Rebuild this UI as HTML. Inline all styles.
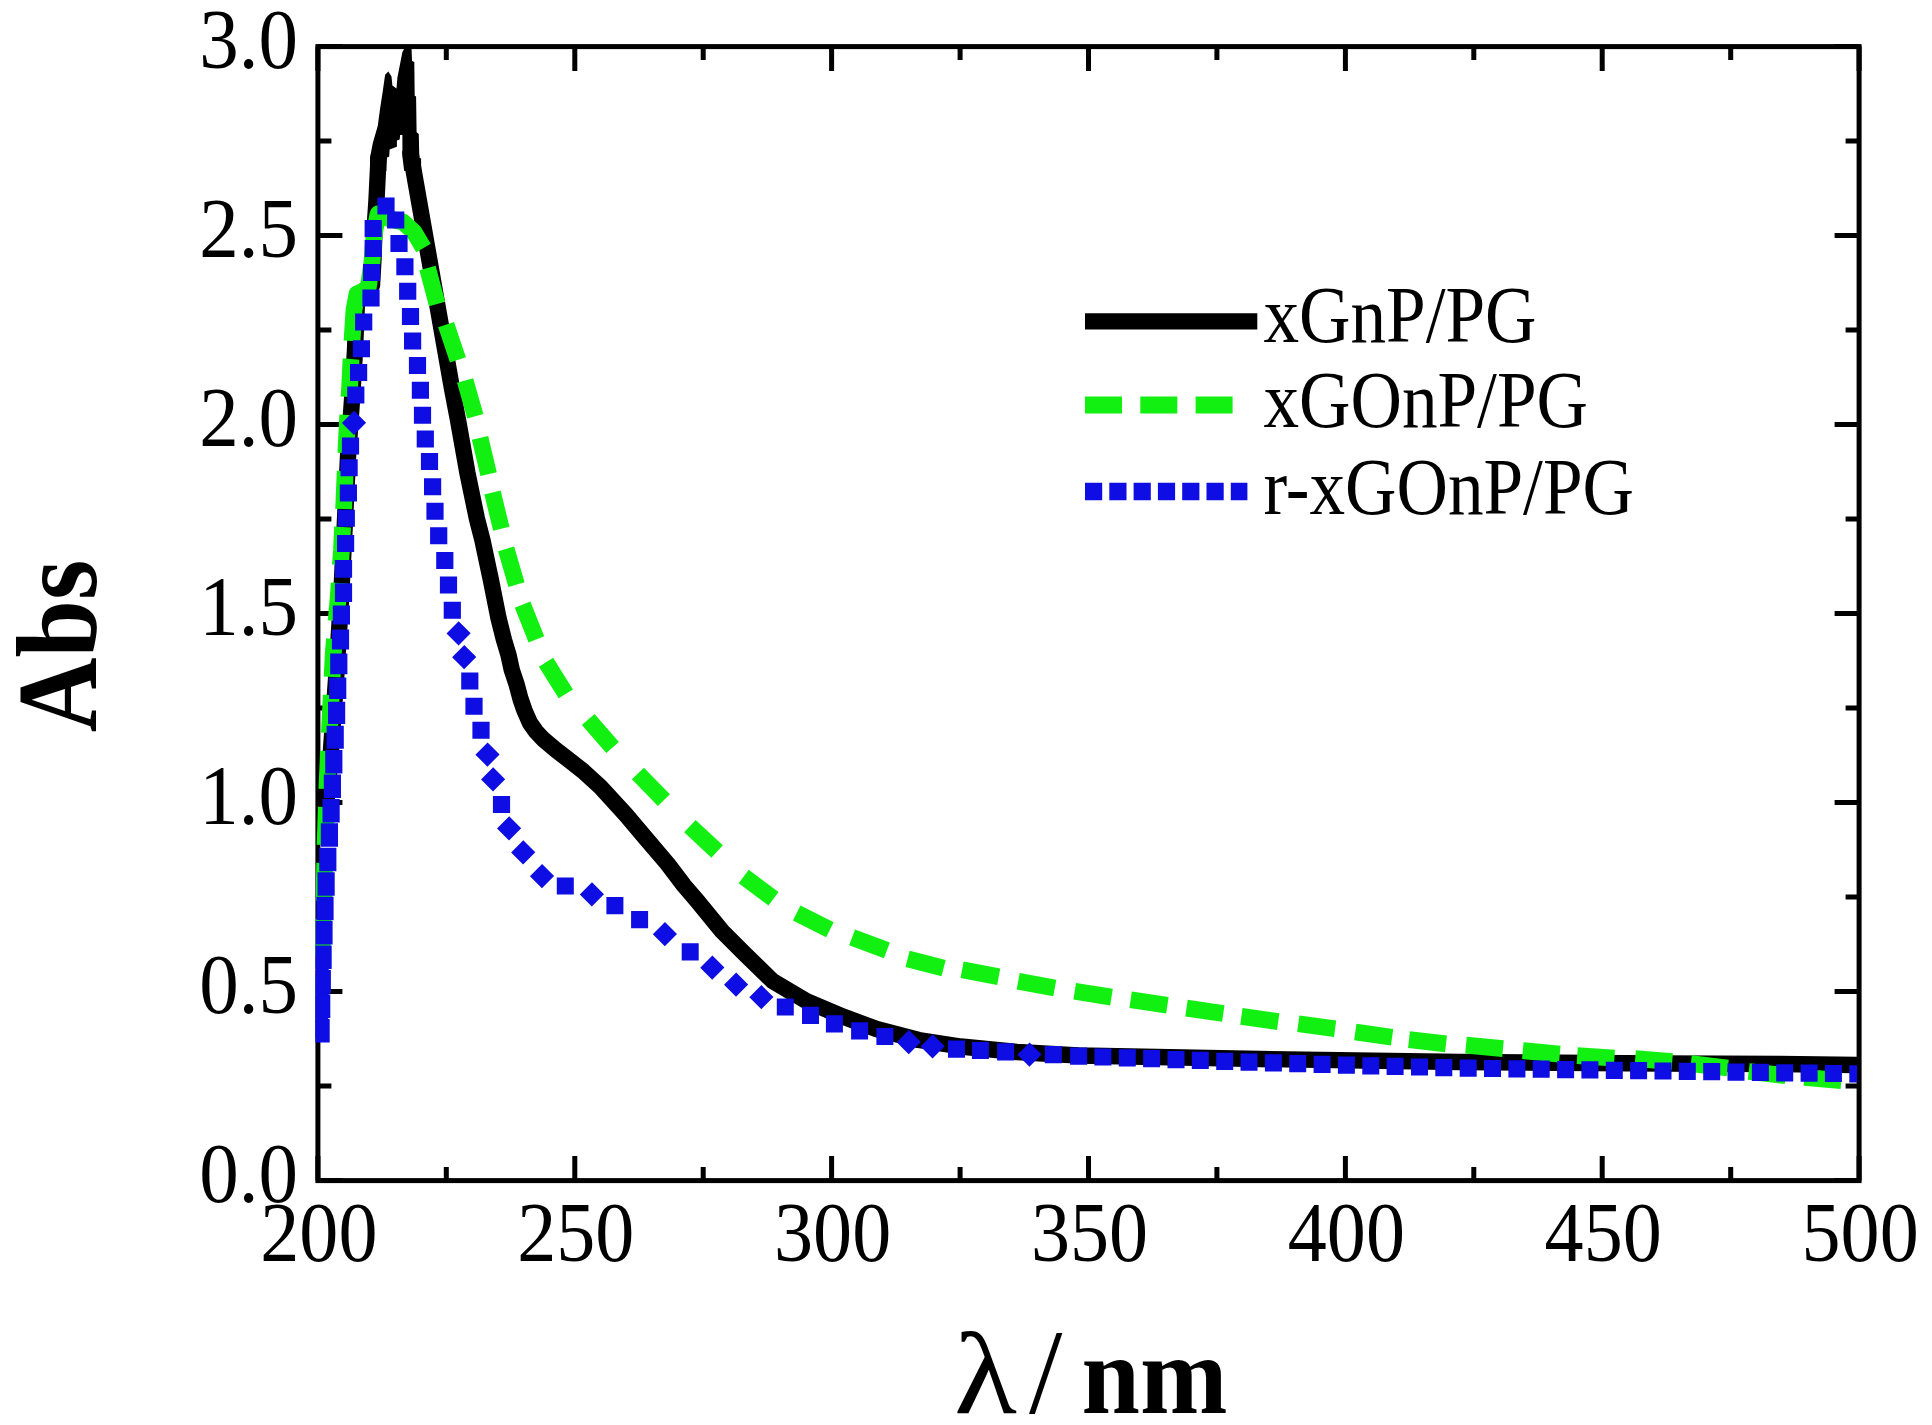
<!DOCTYPE html><html><head><meta charset="utf-8"><title>Abs spectra</title><style>html,body{margin:0;padding:0;background:#fff;overflow:hidden;}svg{display:block;}</style></head><body>
<svg width="1932" height="1425" viewBox="0 0 1932 1425">
<rect width="1932" height="1425" fill="#fff"/>
<path d="M317.9 1180.6V1156.1M317.9 46.6V71.1M446.3 1180.6V1167.1M446.3 46.6V60.1M574.8 1180.6V1156.1M574.8 46.6V71.1M703.2 1180.6V1167.1M703.2 46.6V60.1M831.6 1180.6V1156.1M831.6 46.6V71.1M960.1 1180.6V1167.1M960.1 46.6V60.1M1088.5 1180.6V1156.1M1088.5 46.6V71.1M1216.9 1180.6V1167.1M1216.9 46.6V60.1M1345.4 1180.6V1156.1M1345.4 46.6V71.1M1473.8 1180.6V1167.1M1473.8 46.6V60.1M1602.2 1180.6V1156.1M1602.2 46.6V71.1M1730.7 1180.6V1167.1M1730.7 46.6V60.1M1859.1 1180.6V1156.1M1859.1 46.6V71.1M317.9 1180.6H342.4M1859.1 1180.6H1834.6M317.9 1086.1H331.4M1859.1 1086.1H1845.6M317.9 991.6H342.4M1859.1 991.6H1834.6M317.9 897.1H331.4M1859.1 897.1H1845.6M317.9 802.6H342.4M1859.1 802.6H1834.6M317.9 708.1H331.4M1859.1 708.1H1845.6M317.9 613.6H342.4M1859.1 613.6H1834.6M317.9 519.1H331.4M1859.1 519.1H1845.6M317.9 424.6H342.4M1859.1 424.6H1834.6M317.9 330.1H331.4M1859.1 330.1H1845.6M317.9 235.6H342.4M1859.1 235.6H1834.6M317.9 141.1H331.4M1859.1 141.1H1845.6M317.9 46.6H342.4M1859.1 46.6H1834.6" stroke="#000" stroke-width="5" fill="none"/>
<rect x="317.9" y="46.6" width="1541.2" height="1134.0" fill="none" stroke="#000" stroke-width="5"/>
<defs><clipPath id="c"><rect x="315.5" y="44" width="1541.5" height="1139"/></clipPath></defs>
<g clip-path="url(#c)" fill="none">
<polyline points="326.0,808.0 331.0,750.0 336.0,680.0 341.0,600.0 345.0,520.0 348.0,457.0 352.0,400.0 355.0,350.0 357.0,300.0 362.0,292.0 372.0,285.0 373.5,259.0 374.5,230.0 376.5,200.0 378.2,165.0 379.0,155.0" stroke="#000" stroke-width="16.4" stroke-linejoin="round"/>
<polyline points="410.0,150.0 452.0,388.5 458.0,420.0 467.4,472.8 476.8,518.2 482.4,540.0 490.9,580.0 498.6,618.6 504.0,640.0 508.5,655.0 511.8,670.0 516.5,684.0 520.5,699.0 524.5,710.5 530.0,723.0 536.0,731.5 543.0,739.0 556.0,750.0 569.0,760.0 583.0,771.0 600.5,787.0 625.8,814.6 646.5,839.1 667.5,863.7 684.0,885.5 696.8,900.4 722.1,931.2 744.6,953.7 772.6,981.0 806.3,1001.0 842.8,1016.5 876.5,1029.0 918.6,1040.0 960.7,1046.5 1016.8,1052.0 1078.6,1055.5 1260.0,1059.0 1460.0,1062.0 1660.0,1063.5 1780.0,1064.0 1862.0,1065.0" stroke="#000" stroke-width="16.4" stroke-linejoin="round"/>
<polygon points="370.0,171.0 370.0,157.7 372.8,143.1 377.8,125.8 380.1,108.4 382.8,91.1 385.1,74.7 388.3,71.5 391.5,76.5 392.4,85.6 396.5,88.4 397.4,77.4 400.1,63.7 402.4,51.9 405.2,47.0 411.5,47.0 412.0,61.0 414.3,61.9 414.7,95.7 416.1,96.6 416.6,132.2 418.8,134.0 419.3,157.7 421.1,158.6 421.1,171.0 404.2,171.0 402.4,156.8 402.4,134.9 400.1,134.9 399.7,139.5 396.9,140.4 396.9,146.8 389.6,149.5 389.2,156.8 386.4,157.7 386.4,171.0" fill="#000"/>
<path d="M349.0 397.0 L349.5 390.0 L351.0 360.0 L351.1 359.0M345.9 453.0 L346.0 450.0 L347.5 420.0 L347.8 415.0M343.6 509.0 L344.0 500.0 L345.2 471.0M340.4 565.0 L341.5 550.0 L342.6 527.0M336.1 621.0 L338.0 600.0 L339.2 583.0M332.1 677.0 L333.5 650.0 L334.5 639.0M329.4 733.0 L331.0 700.0 L331.2 695.0M326.9 789.0 L328.5 751.0M325.1 845.0 L326.3 807.0M324.0 901.0 L324.0 900.0 L324.7 863.0M321.7 957.0 L322.0 950.0 L323.2 919.0M352.0 341.0 L354.0 310.0 L357.0 294.0 L368.0 289.0 L372.0 262.0 L374.0 235.0 L378.0 214.0 L390.0 219.0 L403.0 222.0 L414.0 232.0 L423.5 248.0" stroke="#12f012" stroke-width="16.8" stroke-linejoin="round"/>
<path d="M427.5 268.0L437.1 304.0M446.1 324.6L457.9 359.8M465.1 380.5L475.3 416.3M480.0 437.9L488.6 474.1M492.5 492.6L501.3 528.8M506.1 548.8L516.5 584.6M522.6 604.7L536.4 639.3M546.0 662.3L565.8 693.9M588.2 719.5L612.6 747.5M637.9 773.5L663.9 800.1M689.9 826.1L717.1 851.5M743.7 876.6L773.5 898.8M796.7 913.0L829.9 929.8M852.1 937.4L886.9 950.4M907.6 958.8L943.6 968.2M962.1 969.8L998.7 976.8M1018.2 981.2L1054.8 988.0M1074.7 991.3L1111.5 997.1M1130.6 999.8L1167.4 1005.2M1186.5 1008.1L1223.3 1013.5M1241.4 1016.4L1278.2 1021.6M1298.3 1023.8L1335.1 1028.8M1355.3 1032.0L1392.1 1037.2M1409.0 1039.7L1446.0 1043.9M1466.0 1045.2L1503.0 1048.6M1522.8 1050.7L1559.8 1054.1M1577.2 1055.6L1614.4 1058.2M1635.2 1058.7L1672.2 1061.7M1690.8 1063.6L1727.8 1068.0M1748.7 1071.5L1785.7 1075.7M1804.3 1077.4L1841.3 1080.6" stroke="#12f012" stroke-width="16.8"/>
<path d="M322.5 950L321.5 1037" stroke="#0d0de4" stroke-width="13"/>
<path d="M321.1 1042.4L321.1 1018.9M321.7 1018.0L321.7 994.5M322.3 993.5L322.3 970.0M323.1 969.1L323.1 945.6M324.0 944.6L324.0 921.1M325.0 920.2L325.0 896.7M326.1 895.7L326.1 872.2M327.8 871.3L327.8 847.8M329.4 846.8L329.4 823.3M331.1 822.4L331.1 798.9M332.4 797.9L332.4 774.4M333.8 773.5L333.8 750.0M335.2 748.7L335.2 725.8M336.6 723.9L336.6 701.7M337.7 699.1L337.7 677.6M338.8 674.3L338.8 653.5M340.5 649.4L340.5 629.5M341.4 624.6L341.4 605.4M343.5 601.9L343.5 583.3M343.5 577.7L343.5 559.9M345.6 552.1L345.6 534.9M346.3 526.7L346.3 509.7M348.4 501.5L348.4 484.5M349.1 476.2L349.1 459.2M350.5 454.5L350.5 437.5M348.0 416.8L360.0 428.8M355.8 403.5L355.8 386.5M358.6 381.1L358.6 364.1M361.4 357.3L361.4 340.3M363.7 330.6L363.7 313.6M371.0 306.4L371.0 289.4M371.6 281.1L371.6 264.1M373.2 256.9L373.2 239.9M373.2 236.9L373.2 219.9M386.0 197.5L386.0 214.5M395.7 211.5L395.7 228.5M399.0 235.0L399.0 252.0M404.9 258.2L404.9 275.2M407.7 282.7L407.7 299.7M410.5 308.0L410.5 325.0M412.6 332.5L412.6 349.5M417.5 357.1L417.5 374.1M420.4 381.7L420.4 398.7M422.5 406.7L422.5 423.7M425.3 430.6L425.3 447.6M429.5 453.1L429.5 470.1M432.6 478.2L432.6 495.2M435.0 502.7L435.0 519.7M438.7 527.3L438.7 544.3M444.8 551.9L444.8 568.9M448.5 576.4L448.5 593.4M452.3 601.7L452.3 618.7M452.6 627.3L464.6 639.3M458.2 651.2L470.2 663.2M469.8 672.5L469.8 689.5M474.0 697.8L474.0 714.8M481.0 721.7L481.0 738.7M481.5 748.6L493.5 760.6M487.1 773.3L499.1 785.3M501.5 796.1L501.5 813.1M503.1 822.4L515.1 834.4M517.2 846.3L529.2 858.3M536.0 870.1L548.0 882.1M556.8 886.0L573.8 886.0M585.9 888.4L597.9 900.4M606.4 905.6L623.4 905.6M631.1 919.6L648.1 919.6M658.9 928.2L670.9 940.2M681.7 951.9L698.7 951.9M706.3 961.7L718.3 973.7M730.1 978.6L742.1 990.6M755.4 991.2L767.4 1003.2M776.8 1007.0L793.8 1007.0M802.0 1015.4L819.0 1015.4M825.9 1023.9L842.9 1023.9M851.1 1030.9L868.1 1030.9M876.4 1036.5L893.4 1036.5M902.8 1036.1L914.8 1048.1M926.6 1040.3L938.6 1052.3M948.0 1049.1L965.0 1049.1M971.9 1050.5L988.9 1050.5M997.1 1051.9L1014.1 1051.9M1023.5 1048.7L1035.5 1060.7M1044.8 1054.7L1061.8 1054.7M1070.1 1056.2L1087.1 1056.2M1094.4 1057.0L1111.4 1057.0M1118.8 1057.9L1135.8 1057.9M1143.1 1058.7L1160.1 1058.7M1167.5 1059.6L1184.5 1059.6M1191.8 1060.4L1208.8 1060.4M1216.2 1061.3L1233.2 1061.3M1240.5 1062.1L1257.5 1062.1M1264.9 1062.9L1281.9 1062.9M1289.2 1063.7L1306.2 1063.7M1313.6 1064.4L1330.6 1064.4M1337.9 1065.2L1354.9 1065.2M1362.3 1065.8L1379.3 1065.8M1386.6 1066.4L1403.6 1066.4M1411.0 1067.0L1428.0 1067.0M1435.3 1067.6L1452.3 1067.6M1459.7 1068.1L1476.7 1068.1M1484.0 1068.5L1501.0 1068.5M1508.4 1068.9L1525.4 1068.9M1532.7 1069.2L1549.7 1069.2M1557.1 1069.6L1574.1 1069.6M1581.4 1069.9L1598.4 1069.9M1605.8 1070.3L1622.8 1070.3M1630.1 1070.7L1647.1 1070.7M1654.5 1071.0L1671.5 1071.0M1678.8 1071.4L1695.8 1071.4M1703.2 1071.7L1720.2 1071.7M1727.5 1072.1L1744.5 1072.1M1751.9 1072.4L1768.9 1072.4M1776.2 1072.8L1793.2 1072.8M1800.6 1073.1L1817.6 1073.1M1824.9 1073.5L1841.9 1073.5M1849.3 1073.9L1866.3 1073.9" stroke="#0d0de4" stroke-width="17.2"/>
</g>
<text transform="translate(298 1201.6) scale(0.94 1)" text-anchor="end" font-family="Liberation Serif, Times New Roman, serif" font-size="84">0.0</text>
<text transform="translate(298 1012.6) scale(0.94 1)" text-anchor="end" font-family="Liberation Serif, Times New Roman, serif" font-size="84">0.5</text>
<text transform="translate(298 823.6) scale(0.94 1)" text-anchor="end" font-family="Liberation Serif, Times New Roman, serif" font-size="84">1.0</text>
<text transform="translate(298 634.6) scale(0.94 1)" text-anchor="end" font-family="Liberation Serif, Times New Roman, serif" font-size="84">1.5</text>
<text transform="translate(298 445.6) scale(0.94 1)" text-anchor="end" font-family="Liberation Serif, Times New Roman, serif" font-size="84">2.0</text>
<text transform="translate(298 256.6) scale(0.94 1)" text-anchor="end" font-family="Liberation Serif, Times New Roman, serif" font-size="84">2.5</text>
<text transform="translate(298 67.6) scale(0.94 1)" text-anchor="end" font-family="Liberation Serif, Times New Roman, serif" font-size="84">3.0</text>
<text transform="translate(318.9 1261) scale(0.93 1)" text-anchor="middle" font-family="Liberation Serif, Times New Roman, serif" font-size="84">200</text>
<text transform="translate(575.8 1261) scale(0.93 1)" text-anchor="middle" font-family="Liberation Serif, Times New Roman, serif" font-size="84">250</text>
<text transform="translate(832.6 1261) scale(0.93 1)" text-anchor="middle" font-family="Liberation Serif, Times New Roman, serif" font-size="84">300</text>
<text transform="translate(1089.5 1261) scale(0.93 1)" text-anchor="middle" font-family="Liberation Serif, Times New Roman, serif" font-size="84">350</text>
<text transform="translate(1346.4 1261) scale(0.93 1)" text-anchor="middle" font-family="Liberation Serif, Times New Roman, serif" font-size="84">400</text>
<text transform="translate(1603.2 1261) scale(0.93 1)" text-anchor="middle" font-family="Liberation Serif, Times New Roman, serif" font-size="84">450</text>
<text transform="translate(1860.1 1261) scale(0.93 1)" text-anchor="middle" font-family="Liberation Serif, Times New Roman, serif" font-size="84">500</text>
<text transform="translate(96 646) rotate(-90) scale(0.9 1)" text-anchor="middle" font-family="Liberation Serif, Times New Roman, serif" font-weight="bold" font-size="115">Abs</text>
<text transform="translate(954 1413) scale(1.11 1)" font-family="Liberation Serif, Times New Roman, serif" font-size="117">λ</text>
<text x="1029" y="1413" font-family="Liberation Serif, Times New Roman, serif" font-size="120">/</text>
<text transform="translate(1081.5 1413) scale(0.93 1)" font-family="Liberation Serif, Times New Roman, serif" font-weight="bold" font-size="113">nm</text>
<line x1="1085" y1="321.4" x2="1257.3" y2="321.4" stroke="#000" stroke-width="16.2"/>
<line x1="1085" y1="405" x2="1233" y2="405" stroke="#12f012" stroke-width="17" stroke-dasharray="37 18.3"/>
<line x1="1085" y1="491.6" x2="1247.4" y2="491.6" stroke="#0d0de4" stroke-width="17.5" stroke-dasharray="17.2 7.1"/>
<text transform="translate(1263.5 342) scale(0.89 1)" font-family="Liberation Serif, Times New Roman, serif" font-size="80">xGnP/PG</text>
<text transform="translate(1263.5 427) scale(0.89 1)" font-family="Liberation Serif, Times New Roman, serif" font-size="80">xGOnP/PG</text>
<text transform="translate(1263.5 514) scale(0.89 1)" font-family="Liberation Serif, Times New Roman, serif" font-size="80">r-xGOnP/PG</text>
</svg></body></html>
